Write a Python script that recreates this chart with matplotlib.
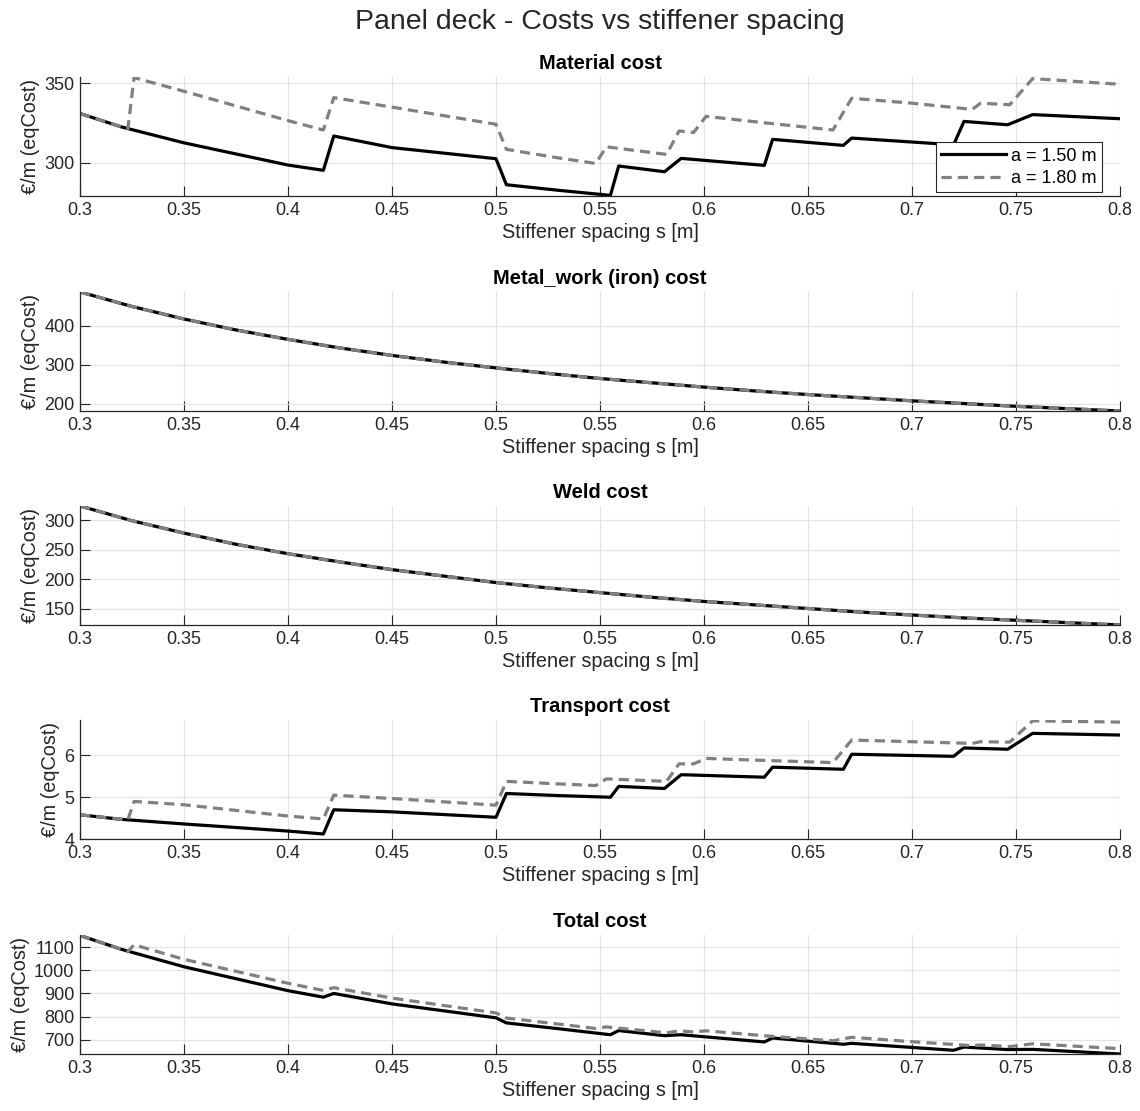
import numpy as np
import matplotlib
matplotlib.use('Agg')
import matplotlib.pyplot as plt
from matplotlib.ticker import FuncFormatter

plt.rcParams['font.family'] = ['Liberation Sans', 'DejaVu Sans']

# stiffener spacing samples [m] for each frame spacing
s_150 = [0.300, 0.320, 0.350, 0.400, 0.417, 0.422, 0.450, 0.500, 0.505, 0.530,
         0.555, 0.559, 0.581, 0.589, 0.629, 0.633, 0.667, 0.671, 0.720, 0.725,
         0.746, 0.758, 0.800]
s_180 = [0.300, 0.320, 0.323, 0.326, 0.350, 0.400, 0.417, 0.422, 0.450, 0.500,
         0.505, 0.530, 0.548, 0.553, 0.582, 0.588, 0.595, 0.601, 0.630, 0.662,
         0.671, 0.700, 0.729, 0.733, 0.747, 0.758, 0.800]
s_smooth = [0.300, 0.325, 0.350, 0.375, 0.400, 0.425, 0.450, 0.475, 0.500, 0.525,
            0.550, 0.575, 0.600, 0.625, 0.650, 0.675, 0.700, 0.725, 0.750, 0.775,
            0.800]

material_150 = [331.0, 322.5, 312.5, 298.5, 295.2, 316.8, 309.5, 302.5, 286.1, 282.6,
                279.4, 297.9, 294.3, 302.7, 298.3, 314.7, 310.9, 315.5, 311.3, 326.0,
                323.9, 330.3, 327.7]
material_180 = [331.0, 322.5, 321.3, 353.6, 345.0, 326.5, 320.6, 341.0, 335.0, 324.2,
                308.4, 303.0, 299.5, 310.0, 305.2, 320.0, 319.0, 329.2, 325.0, 320.6,
                340.6, 337.5, 333.6, 337.5, 336.5, 353.0, 349.4]

# metal work and welding are the same for both frame spacings
metal_work = [486, 449, 417, 389, 365, 343, 324, 307, 292, 278, 265, 254, 243, 233,
              224, 216, 208, 201, 194, 188, 182]
weld = [324, 299, 278, 259, 243, 229, 216, 205, 194, 185, 177, 169, 162, 156, 150,
        144, 139, 134, 130, 126, 122]

transport_150 = [4.58, 4.47, 4.36, 4.19, 4.12, 4.70, 4.65, 4.52, 5.09, 5.04, 5.00,
                 5.26, 5.21, 5.54, 5.48, 5.72, 5.67, 6.03, 5.98, 6.18, 6.15, 6.53,
                 6.49]
transport_180 = [4.58, 4.47, 4.46, 4.90, 4.82, 4.55, 4.48, 5.05, 4.97, 4.81, 5.38,
                 5.32, 5.28, 5.44, 5.38, 5.80, 5.80, 5.93, 5.88, 5.83, 6.37, 6.33,
                 6.29, 6.33, 6.32, 6.83, 6.80]

total_150 = [1150, 1090, 1015, 912, 884, 900, 855, 795, 773, 748, 722, 740, 718, 722,
             691, 708, 681, 685, 655, 669, 658, 659, 639]
total_180 = [1150, 1090, 1080, 1110, 1047, 944, 913, 925, 880, 816, 794, 768, 749,
             756, 730, 739, 734, 739, 717, 696, 711, 692, 675, 678, 671, 683, 662]

titles = ['Material cost', 'Metal_work (iron) cost', 'Weld cost', 'Transport cost',
          'Total cost']
yticks = [[300, 350], [200, 300, 400], [150, 200, 250, 300], [4, 5, 6],
          [700, 800, 900, 1000, 1100]]
ylims = [(279, 354), (182, 486), (122, 324), (4.0, 6.85), (639, 1152)]

series = [
    (s_150, material_150, s_180, material_180),
    (s_smooth, metal_work, s_smooth, metal_work),
    (s_smooth, weld, s_smooth, weld),
    (s_150, transport_150, s_180, transport_180),
    (s_150, total_150, s_180, total_180),
]

W, H = 1140, 1111
fig = plt.figure(figsize=(W / 100, H / 100), dpi=100)
fig.text(600 / W, 1 - 22 / H, 'Panel deck - Costs vs stiffener spacing',
         ha='center', va='center', fontsize=20.5, color='#262626')

ax_left, ax_right = 80, 1120
ax_bottoms = [196, 411, 625, 839, 1054]
ax_h = 119
dark = '#262626'
grey = (0.5, 0.5, 0.5)

for i, (sa, ya, sb, yb) in enumerate(series):
    bot = ax_bottoms[i]
    ax = fig.add_axes([ax_left / W, 1 - bot / H, (ax_right - ax_left) / W, ax_h / H])
    ax.plot(sa, ya, color='k', lw=2.3, label='a = 1.50 m')
    ax.plot(sb, yb, color=grey, lw=2.3, ls=(0, (3.2, 1.9)), label='a = 1.80 m')

    ax.set_xlim(0.3, 0.8)
    ax.set_ylim(*ylims[i])
    ax.set_xticks(np.arange(0.3, 0.8001, 0.05))
    ax.set_yticks(yticks[i])
    ax.xaxis.set_major_formatter(FuncFormatter(lambda v, p: '%g' % round(v, 3)))
    ax.yaxis.set_major_formatter(FuncFormatter(lambda v, p: '%g' % v))
    ax.tick_params(direction='in', length=7.5, width=0.8, color=dark,
                   labelsize=13, labelcolor=dark, pad=4)
    ax.grid(True, color='#e4e4e4', lw=0.9)
    ax.set_axisbelow(True)
    for side in ['top', 'right']:
        ax.spines[side].set_visible(False)
    for side in ['left', 'bottom']:
        ax.spines[side].set_color(dark)
        ax.spines[side].set_linewidth(0.9)

    ax.set_title(titles[i], fontsize=14.5, fontweight='bold', pad=6)
    ax.set_xlabel('Stiffener spacing s [m]', fontsize=14.3, color=dark, labelpad=3)
    ax.set_ylabel('€/m (eqCost)', fontsize=14.3, color=dark, labelpad=3)

    if i == 0:
        leg = ax.legend(loc='lower right', bbox_to_anchor=(0.983, 0.03),
                        borderaxespad=0, fontsize=13, fancybox=False,
                        edgecolor=dark, framealpha=1, handlelength=3.6,
                        handletextpad=0.3, borderpad=0.3, labelspacing=0.3)
        leg.get_frame().set_linewidth(0.8)

fig.savefig('out.png', dpi=100)
